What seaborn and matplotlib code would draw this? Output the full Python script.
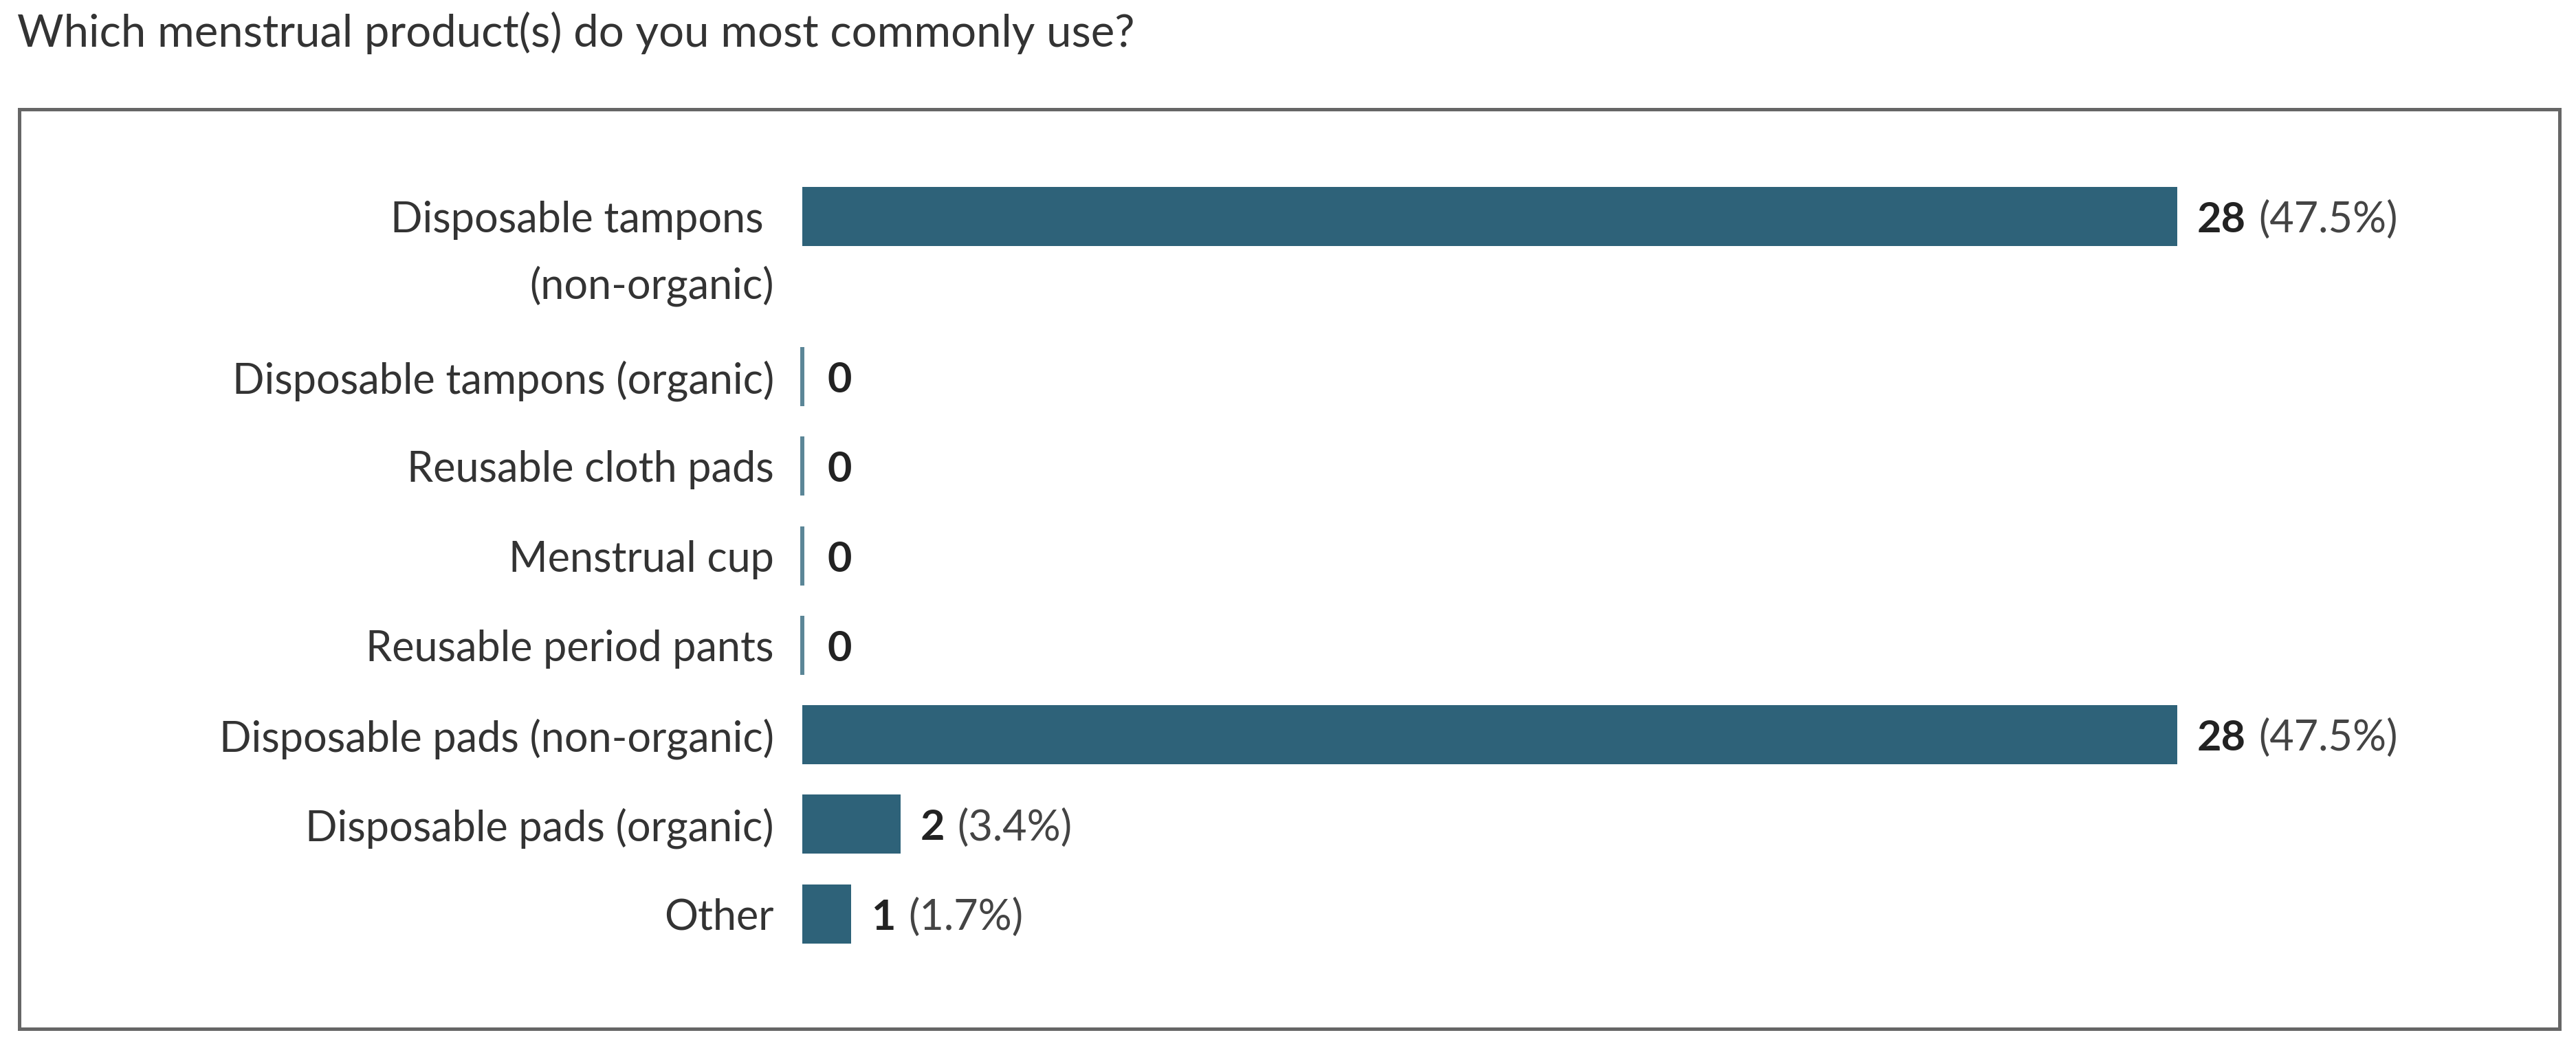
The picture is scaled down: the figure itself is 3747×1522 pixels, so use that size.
import numpy as np
import pandas as pd
import matplotlib
matplotlib.use("Agg")
import matplotlib.pyplot as plt
import seaborn as sns
from matplotlib.patches import Rectangle

# ---------------- data ----------------
title = "Which menstrual product(s) do you most commonly use?"
categories = [
    "Disposable tampons \n(non-organic)",
    "Disposable tampons (organic)",
    "Reusable cloth pads",
    "Menstrual cup",
    "Reusable period pants",
    "Disposable pads (non-organic)",
    "Disposable pads (organic)",
    "Other",
]
counts = [28, 0, 0, 0, 0, 28, 2, 1]
percents = [47.5, 0.0, 0.0, 0.0, 0.0, 47.5, 3.4, 1.7]

# ---------------- style ----------------
W, H, DPI = 3748, 1522, 100
BAR = "#2e6279"
ZERO = "#5b8697"
TXT = "#333333"
FS = 44
LINE_GAP_PX = 96
PAD_PX = 41

sns.set_theme(style="white")
plt.rcParams["font.family"] = ["Lato", "DejaVu Sans"]

fig = plt.figure(figsize=(W / DPI, H / DPI), dpi=DPI)
fig.patch.set_facecolor("white")

# row layout: wrapped labels get extra room
extra_line = 0.79
label_lines = [c.split("\n") for c in categories]
row_pos = []
y = 0.0
for i, lines in enumerate(label_lines):
    if i > 0:
        y += 1 + extra_line * (len(label_lines[i - 1]) - 1)
    row_pos.append(y)

df = pd.DataFrame({"category": categories, "count": counts, "pos": row_pos})

unit_px = 130.3
top_px = 314.7 - unit_px
ax_h_px = (row_pos[-1] + 2) * unit_px
left_px, right_px = 1167, 3700
ax = fig.add_axes([left_px / W, 1 - (top_px + ax_h_px) / H,
                   (right_px - left_px) / W, ax_h_px / H])
ax.set_facecolor("none")

sns.barplot(data=df, x="count", y="pos", orient="h", native_scale=True,
            color=BAR, saturation=1, width=0.66, errorbar=None, ax=ax)

xmax = max(counts) * (right_px - left_px) / 2000
ax.set_xlim(0, xmax)
ax.set_ylim(row_pos[-1] + 1, -1)

for p in ax.patches:
    p.set_clip_on(False)
    if p.get_width() == 0:
        p.set_edgecolor(ZERO)
        p.set_facecolor(ZERO)
        p.set_linewidth(4.3)
    else:
        p.set_linewidth(0)

ax.set_xticks([])
ax.set_xlabel("")
ax.set_ylabel("")
ax.set_yticks(row_pos)
# first line of each category as the tick label, continuation lines below
ax.set_yticklabels([lines[0] for lines in label_lines])
ax.tick_params(axis="y", length=0, pad=PAD_PX * 72 / DPI, labelsize=FS,
               labelcolor=TXT)
for lines, pos in zip(label_lines, row_pos):
    for k, line in enumerate(lines[1:], start=1):
        ax.annotate(line, xy=(0, pos), xytext=(-PAD_PX, -LINE_GAP_PX * k),
                    textcoords="offset pixels", ha="right",
                    va="center_baseline", fontsize=FS, color=TXT,
                    annotation_clip=False)
for s in ax.spines.values():
    s.set_visible(False)
ax.grid(False)

# value labels
for c, pct, pos in zip(counts, percents, row_pos):
    off = 29 if c > 0 else 37
    t = ax.annotate(str(c), xy=(c, pos), xytext=(off, 0),
                    textcoords="offset pixels", ha="left",
                    va="center_baseline", fontsize=FS, fontweight="bold",
                    color="#222222", annotation_clip=False)
    if c > 0:
        ax.annotate(f"({pct:.1f}%)", xy=(1, pos), xycoords=(t, "data"),
                    xytext=(18, 0), textcoords="offset pixels", ha="left",
                    va="center_baseline", fontsize=FS, color="#444444",
                    annotation_clip=False)

# title
fig.text(25 / W, 1 - 68 / H, title, ha="left", va="baseline",
         fontsize=47, color=TXT)

# outer frame
lw_px = 5
fig.add_artist(Rectangle(((26 + lw_px / 2) / W, 1 - (1499 - lw_px / 2) / H),
                         (3726 - 26 - lw_px) / W, (1499 - 156 - lw_px) / H,
                         transform=fig.transFigure, fill=False,
                         edgecolor="#666666", linewidth=lw_px * 72 / DPI))

fig.savefig("out.png", dpi=DPI, facecolor="white")
